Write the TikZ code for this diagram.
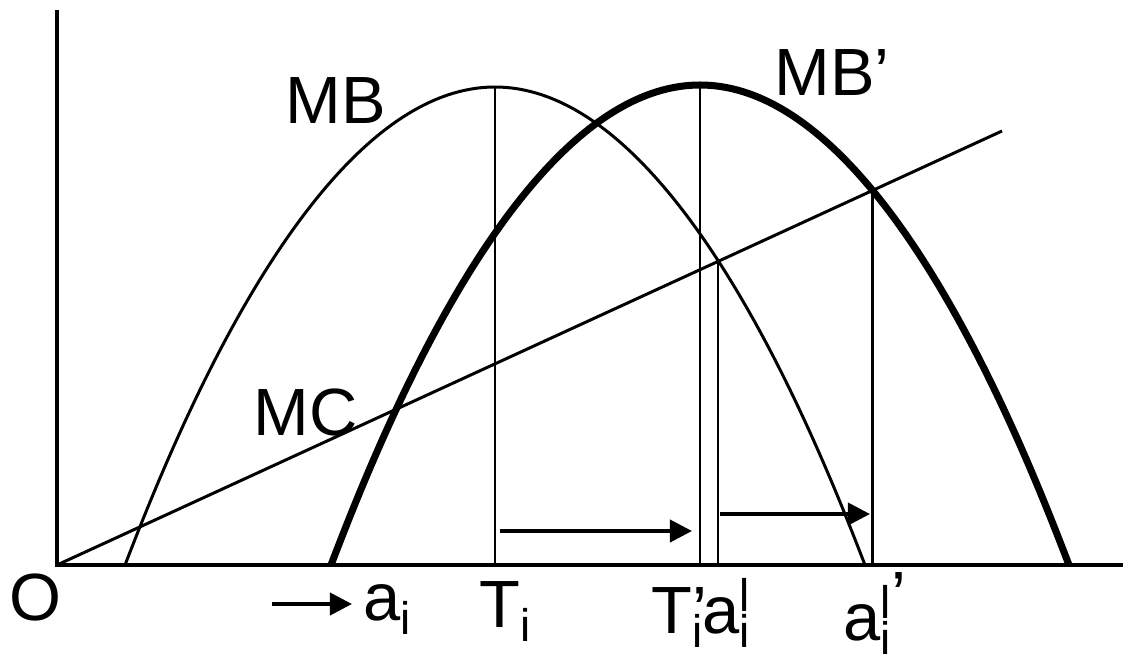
\documentclass[tikz,border=0pt]{standalone}
\usepackage{fontspec}
\setmainfont{Liberation Sans}
\usetikzlibrary{arrows.meta,intersections}

\newcommand{\lowi}{\raisebox{-0.22em}{\fontsize{13}{13}\selectfont i}}
\newcommand{\highl}{\raisebox{0.32em}{\fontsize{13}{13}\selectfont l}}

\begin{document}
\begin{tikzpicture}[
    x=0.01cm, y=-0.01cm,
    lbl/.style={inner sep=0pt, anchor=base west, font=\fontsize{19}{22}\selectfont},
    shiftarrow/.style={line width=1.1pt, -{Triangle[length=6.3pt,width=6.3pt]}},
    guide/.style={line width=0.6pt}
]

\useasboundingbox (0,0) rectangle (1123,660);

% Coordinates (pixels of the figure, y downwards)
\coordinate (O) at (57,565);
\coordinate (Ytop) at (57,10);
\coordinate (Xend) at (1123,565);
\coordinate (MCend) at (1002,131);
\coordinate (MBa) at (125,565);
\coordinate (MBtop) at (495,87);
\coordinate (MBb) at (865,565);
\coordinate (MBpa) at (331,565);
\coordinate (MBptop) at (700,85);
\coordinate (MBpb) at (1069,565);

% Axes
\draw[line width=1.05pt] (Ytop) -- (O) -- (Xend);

% Marginal cost
\draw[name path=mc, line width=0.85pt] (O) -- (MCend);

% Marginal benefit, before and after
\draw[name path=mb, line width=0.85pt]
    (MBa) parabola bend (MBtop) (MBb);
\draw[name path=mbp, line width=2pt]
    (MBpa) parabola bend (MBptop) (MBpb);

% Crossings with MC
\path[name intersections={of=mb and mc, name=A, sort by=mc}];
\path[name intersections={of=mbp and mc, name=B, sort by=mc}];

% Drop lines
\draw[guide] (MBtop) -- (MBtop |- O);
\draw[guide] (MBptop) -- (MBptop |- O);
\draw[guide] (A-2) -- (A-2 |- O);
\draw[guide] (B-2) -- (B-2 |- O);

% Shifts
\coordinate (s0) at (272,604);
\coordinate (e0) at (352,604);
\coordinate (s1) at (500,531);
\coordinate (e1) at (692,531);
\coordinate (s2) at (720,514);
\coordinate (e2) at (870,514);
\draw[shiftarrow] (s0) -- (e0);
\draw[shiftarrow] (s1) -- (e1);
\draw[shiftarrow] (s2) -- (e2);

% Labels
\node[lbl] (o) at (9,620) {O};
\node[lbl] (ai) at (363,620) {a\lowi};
\node[lbl] (Ti) at (479,627) {T\lowi};
\node[lbl] (Tpai) at (651,633) {T\rlap{’}\lowi a\rlap{\highl}\lowi};
\node[lbl] (aip) at (843,640) {a\rlap{\highl\raisebox{0.32em}{’}}\lowi};
\node[lbl] (mb) at (285,123) {MB};
\node[lbl] (mbp) at (774,95) {MB’};
\node[lbl] (mc) at (253,435) {MC};

\end{tikzpicture}
\end{document}
